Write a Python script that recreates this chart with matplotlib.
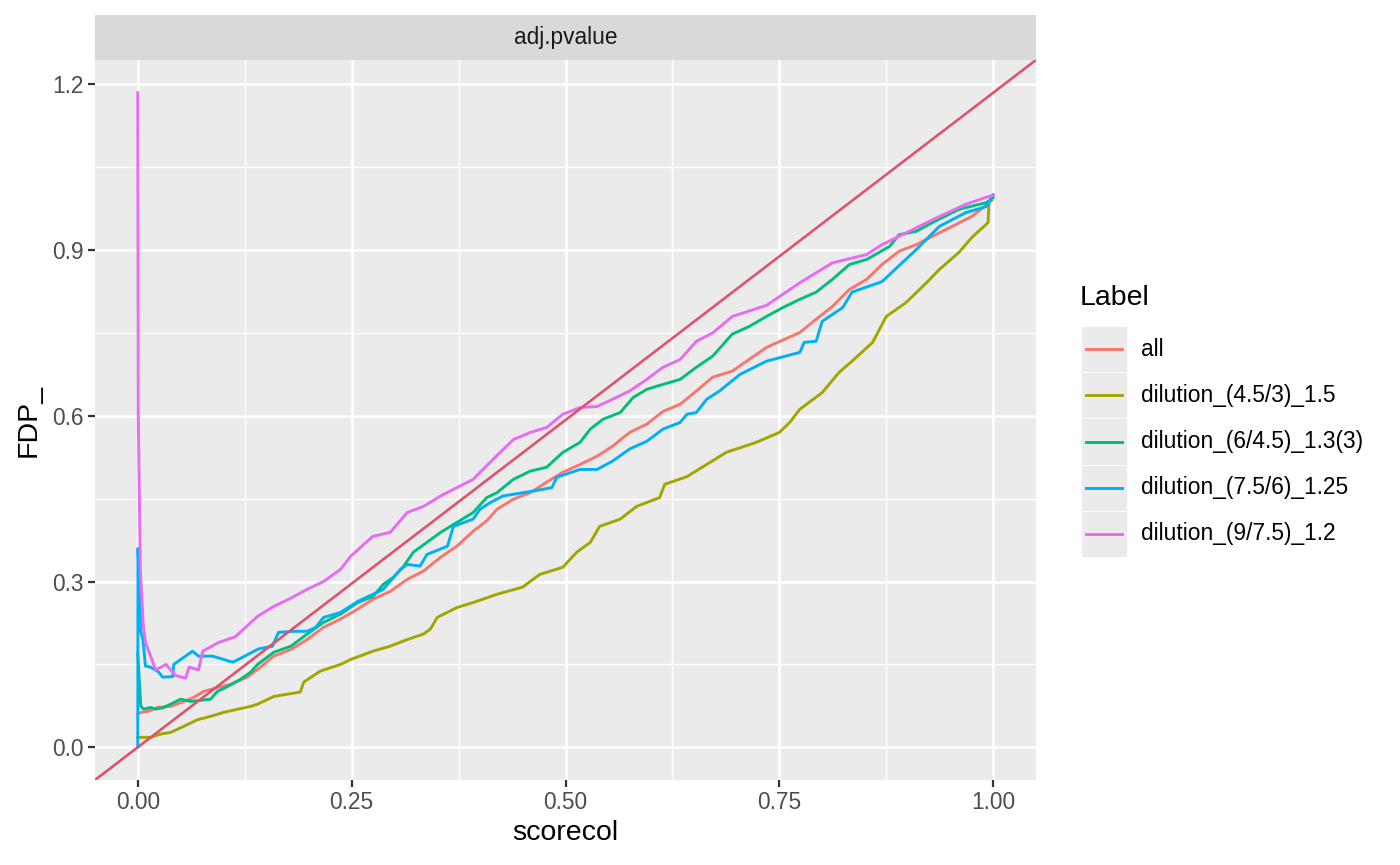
import matplotlib
matplotlib.use("Agg")
import matplotlib.pyplot as plt
from matplotlib.patches import Rectangle

plt.rcParams["font.family"] = ["Liberation Sans", "DejaVu Sans"]

labels = ["all", "dilution_(4.5/3)_1.5", "dilution_(6/4.5)_1.3(3)",
          "dilution_(7.5/6)_1.25", "dilution_(9/7.5)_1.2"]
colors = ["#F8766D", "#A3A500", "#00BF7D", "#00B0F6", "#E76BF3"]

all_x = [0.0, 0.0035, 0.012, 0.023, 0.0385, 0.054, 0.065, 0.077, 0.093, 0.1085, 0.128,
         0.140, 0.159, 0.179, 0.198, 0.217, 0.237, 0.257, 0.275, 0.295, 0.315, 0.334,
         0.354, 0.373, 0.392, 0.408, 0.420, 0.439, 0.459, 0.478, 0.497, 0.517, 0.537,
         0.555, 0.575, 0.595, 0.614, 0.634, 0.653, 0.672, 0.695, 0.735, 0.774, 0.793,
         0.812, 0.832, 0.852, 0.870, 0.890, 0.910, 0.929, 0.952, 0.975, 0.995, 1.0]
all_y = [0.060, 0.063, 0.065, 0.072, 0.074, 0.083, 0.090, 0.101, 0.108, 0.114, 0.127,
         0.141, 0.165, 0.177, 0.195, 0.217, 0.232, 0.250, 0.268, 0.282, 0.304, 0.319,
         0.344, 0.364, 0.391, 0.410, 0.431, 0.449, 0.461, 0.480, 0.498, 0.512, 0.527,
         0.545, 0.570, 0.585, 0.608, 0.621, 0.645, 0.670, 0.681, 0.724, 0.751, 0.775,
         0.798, 0.829, 0.847, 0.874, 0.898, 0.910, 0.925, 0.943, 0.961, 0.986, 1.0]

d45_x = [0.0, 0.015, 0.027, 0.0385, 0.054, 0.070, 0.085, 0.100, 0.117, 0.132, 0.140,
         0.159, 0.190, 0.194, 0.2135, 0.237, 0.249, 0.275, 0.295, 0.315, 0.334, 0.342,
         0.350, 0.373, 0.392, 0.420, 0.450, 0.470, 0.497, 0.513, 0.529, 0.540, 0.564,
         0.583, 0.610, 0.616, 0.642, 0.665, 0.688, 0.723, 0.750, 0.762, 0.774, 0.800,
         0.820, 0.835, 0.859, 0.875, 0.898, 0.922, 0.937, 0.960, 0.975, 0.992, 0.994,
         0.995, 0.998]
d45_y = [0.018, 0.018, 0.024, 0.027, 0.038, 0.050, 0.056, 0.063, 0.069, 0.074, 0.078,
         0.092, 0.100, 0.118, 0.138, 0.150, 0.159, 0.174, 0.183, 0.195, 0.205, 0.214,
         0.235, 0.253, 0.262, 0.277, 0.290, 0.313, 0.326, 0.353, 0.371, 0.400, 0.413,
         0.436, 0.452, 0.476, 0.490, 0.512, 0.534, 0.552, 0.570, 0.588, 0.612, 0.642,
         0.679, 0.699, 0.733, 0.780, 0.805, 0.841, 0.865, 0.896, 0.923, 0.947, 0.950,
         0.988, 0.990]

d6_x = [0.0, 0.0035, 0.007, 0.015, 0.021, 0.030, 0.0385, 0.050, 0.062, 0.085, 0.093,
        0.105, 0.120, 0.132, 0.140, 0.159, 0.179, 0.198, 0.217, 0.237, 0.257, 0.275,
        0.287, 0.299, 0.310, 0.322, 0.338, 0.354, 0.373, 0.392, 0.408, 0.420, 0.439,
        0.459, 0.478, 0.497, 0.517, 0.529, 0.544, 0.564, 0.579, 0.595, 0.614, 0.634,
        0.653, 0.672, 0.695, 0.715, 0.735, 0.754, 0.774, 0.793, 0.812, 0.832, 0.852,
        0.879, 0.890, 0.910, 0.929, 0.960, 0.992, 1.0]
d6_y = [0.170, 0.074, 0.069, 0.072, 0.069, 0.072, 0.078, 0.087, 0.083, 0.087, 0.101,
        0.110, 0.123, 0.136, 0.150, 0.172, 0.183, 0.205, 0.226, 0.241, 0.262, 0.273,
        0.295, 0.308, 0.326, 0.353, 0.371, 0.389, 0.407, 0.425, 0.452, 0.461, 0.485,
        0.500, 0.507, 0.534, 0.552, 0.576, 0.594, 0.606, 0.633, 0.648, 0.657, 0.666,
        0.688, 0.708, 0.748, 0.762, 0.780, 0.796, 0.811, 0.824, 0.847, 0.874, 0.883,
        0.907, 0.928, 0.934, 0.950, 0.974, 0.986, 0.995]

d75_x = [0.0, 0.0003, 0.0035, 0.006, 0.009, 0.015, 0.0245, 0.029, 0.041, 0.042, 0.054,
         0.064, 0.071, 0.0875, 0.111, 0.1225, 0.141, 0.1575, 0.1645, 0.184, 0.198, 0.208,
         0.217, 0.237, 0.257, 0.275, 0.287, 0.307, 0.315, 0.330, 0.338, 0.362, 0.369,
         0.392, 0.400, 0.412, 0.427, 0.459, 0.484, 0.490, 0.517, 0.537, 0.555, 0.575,
         0.595, 0.614, 0.634, 0.642, 0.653, 0.665, 0.680, 0.704, 0.735, 0.774, 0.779,
         0.793, 0.800, 0.824, 0.835, 0.870, 0.910, 0.937, 0.968, 0.992, 1.0]
d75_y = [0.0, 0.36, 0.210, 0.195, 0.147, 0.145, 0.136, 0.127, 0.128, 0.150, 0.163,
         0.174, 0.165, 0.165, 0.154, 0.163, 0.178, 0.183, 0.208, 0.210, 0.210, 0.217,
         0.235, 0.244, 0.264, 0.277, 0.286, 0.322, 0.331, 0.328, 0.349, 0.364, 0.400,
         0.413, 0.431, 0.443, 0.455, 0.463, 0.470, 0.489, 0.503, 0.503, 0.518, 0.540,
         0.554, 0.576, 0.588, 0.603, 0.606, 0.630, 0.645, 0.675, 0.699, 0.715, 0.733,
         0.735, 0.771, 0.796, 0.824, 0.843, 0.901, 0.943, 0.968, 0.979, 1.0]

d9_x = [0.0, 0.0006, 0.003, 0.0065, 0.009, 0.015, 0.021, 0.033, 0.044, 0.056, 0.060,
        0.071, 0.076, 0.095, 0.114, 0.140, 0.159, 0.179, 0.198, 0.217, 0.237, 0.249,
        0.275, 0.295, 0.315, 0.334, 0.354, 0.373, 0.392, 0.408, 0.439, 0.459, 0.478,
        0.497, 0.517, 0.537, 0.555, 0.575, 0.595, 0.614, 0.634, 0.653, 0.672, 0.695,
        0.735, 0.774, 0.812, 0.852, 0.870, 0.890, 0.929, 0.968, 1.0]
d9_y = [1.185, 0.600, 0.320, 0.220, 0.190, 0.165, 0.140, 0.150, 0.130, 0.125, 0.145,
        0.140, 0.174, 0.190, 0.200, 0.237, 0.255, 0.270, 0.286, 0.300, 0.322, 0.346,
        0.382, 0.389, 0.425, 0.436, 0.455, 0.470, 0.485, 0.510, 0.557, 0.570, 0.579,
        0.603, 0.615, 0.617, 0.630, 0.645, 0.666, 0.688, 0.702, 0.735, 0.750, 0.780,
        0.800, 0.841, 0.877, 0.892, 0.910, 0.925, 0.955, 0.983, 1.0]

series_x = [all_x, d45_x, d6_x, d75_x, d9_x]
series_y = [all_y, d45_y, d6_y, d75_y, d9_y]
abline_slope = 1.185

x_ticks = [0.0, 0.25, 0.5, 0.75, 1.0]
x_ticklabels = ["0.00", "0.25", "0.50", "0.75", "1.00"]
y_ticks = [0.0, 0.3, 0.6, 0.9, 1.2]
y_ticklabels = ["0.0", "0.3", "0.6", "0.9", "1.2"]

W, H = 1400, 865
fig = plt.figure(figsize=(14, 8.65), dpi=100)

# panel
ax = fig.add_axes([95 / W, (H - 780) / H, 941 / W, 720 / H])
ax.set_facecolor("#EBEBEB")
for s in ax.spines.values():
    s.set_visible(False)
ax.set_xlim(-0.05, 1.05)
ax.set_ylim(-0.05925, 1.24425)
ax.set_xticks(x_ticks)
ax.set_xticklabels(x_ticklabels)
ax.set_yticks(y_ticks)
ax.set_yticklabels(y_ticklabels)
ax.set_xticks([0.125, 0.375, 0.625, 0.875], minor=True)
ax.set_yticks([0.15, 0.45, 0.75, 1.05], minor=True)
ax.grid(which="major", color="white", linewidth=1.9)
ax.grid(which="minor", color="white", linewidth=0.95)
ax.set_axisbelow(True)
ax.tick_params(which="major", length=5, width=1.6, color="#333333",
               labelsize=16.4, labelcolor="#4D4D4D", pad=3)
ax.tick_params(which="minor", length=0)

for xs, ys, c in zip(series_x, series_y, colors):
    ax.plot(xs, ys, color=c, linewidth=2.1, solid_joinstyle="round")
ax.axline((0, 0), slope=abline_slope, color="#DF536B", linewidth=1.9)

ax.set_xlabel("scorecol", fontsize=20.5, color="black", labelpad=4)
ax.set_ylabel("FDP_", fontsize=20.5, color="black", labelpad=8)

# facet strip
sax = fig.add_axes([95 / W, (H - 60) / H, 941 / W, 45 / H])
sax.set_facecolor("#D9D9D9")
sax.set_xticks([])
sax.set_yticks([])
for s in sax.spines.values():
    s.set_visible(False)
sax.text(0.5, 0.5, "adj.pvalue", ha="center", va="center",
         fontsize=16.4, color="#1A1A1A", transform=sax.transAxes)

# legend
lax = fig.add_axes([0, 0, 1, 1], facecolor="none")
lax.set_xlim(0, W)
lax.set_ylim(H, 0)
lax.axis("off")
lax.text(1080, 298, "Label", fontsize=20.5, va="center", ha="left", color="black")
key_top, key_h = 326, 46.2
for i, (lab, c) in enumerate(zip(labels, colors)):
    y0 = key_top + i * key_h
    lax.add_patch(Rectangle((1081, y0), 46, key_h, facecolor="#EBEBEB",
                            edgecolor="white", linewidth=0.6))
    yc = y0 + key_h / 2
    lax.plot([1086, 1122], [yc, yc], color=c, linewidth=2.1)
    lax.text(1141, yc, lab, fontsize=16.4, va="center", ha="left", color="black")

fig.savefig("out.png", dpi=100)
